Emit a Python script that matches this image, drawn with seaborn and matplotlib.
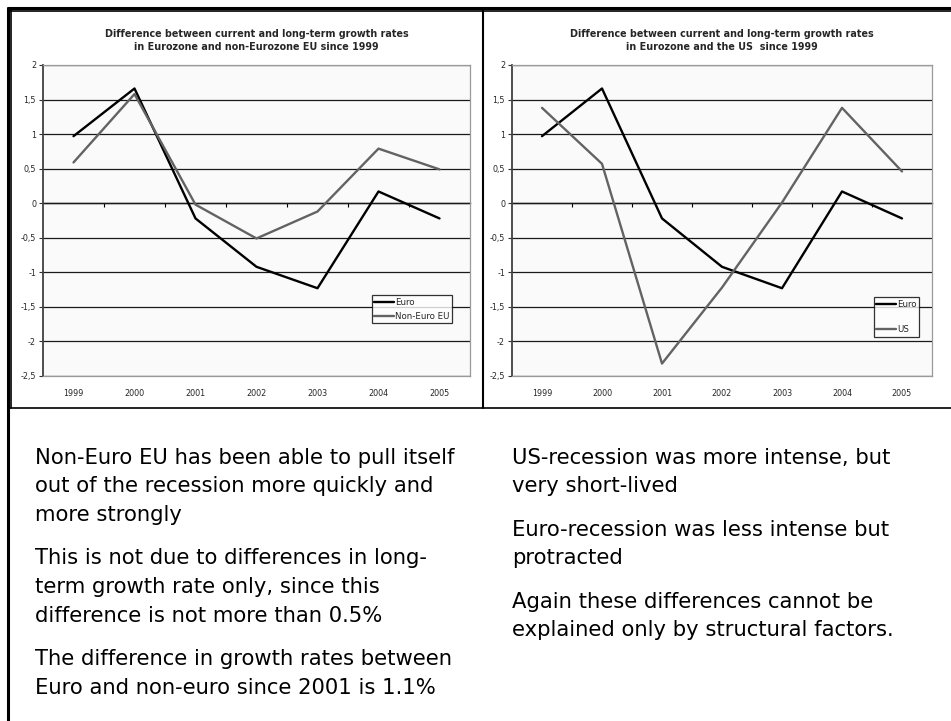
import numpy as np
import pandas as pd
import seaborn as sns
import matplotlib.pyplot as plt
from matplotlib.ticker import FuncFormatter

# values
years = [1999, 2000, 2001, 2002, 2003, 2004, 2005]
euro = [0.97, 1.66, -0.22, -0.92, -1.23, 0.17, -0.22]
non_euro_eu = [0.59, 1.58, -0.02, -0.51, -0.12, 0.79, 0.49]
us = [1.38, 0.57, -2.32, -1.22, 0.01, 1.38, 0.46]

y_min, y_max = -2.5, 2.0

left_title = ("Difference between current and long-term growth rates\n"
              "in Eurozone and non-Eurozone EU since 1999")
right_title = ("Difference between current and long-term growth rates\n"
               "in Eurozone and the US  since 1999")

left_notes = [
    ["Non-Euro EU has been able to pull itself",
     "out of the recession more quickly and",
     "more strongly"],
    ["This is not due to differences in long-",
     "term growth rate only, since this",
     "difference is not more than 0.5%"],
    ["The difference in growth rates between",
     "Euro and non-euro since 2001 is 1.1%"],
]
right_notes = [
    ["US-recession was more intense, but",
     "very short-lived"],
    ["Euro-recession was less intense but",
     "protracted"],
    ["Again these differences cannot be",
     "explained only by structural factors."],
]

sns.set_style("white")
plt.rcParams['font.family'] = ['DejaVu Sans']

W, H = 951, 721
fig = plt.figure(figsize=(W / 100, H / 100), dpi=100)

# pixel-space overlay for frames and notes
bg = fig.add_axes([0, 0, 1, 1])
bg.set_xlim(0, W)
bg.set_ylim(H, 0)
bg.axis('off')
bg.plot([7, W], [8, 8], color='black', lw=2.2, solid_capstyle='butt')
bg.plot([8, 8], [7, H], color='black', lw=2.2, solid_capstyle='butt')
bg.plot([10, W], [10.5, 10.5], color='black', lw=1.2)
bg.plot([10.5, 10.5], [10, 408], color='black', lw=1.2)
bg.plot([10, W], [408, 408], color='black', lw=1.2)
bg.plot([482.5, 482.5], [10, 408], color='black', lw=1.5)


def px_rect(x0, x1, top, bottom):
    return [x0 / W, 1 - bottom / H, (x1 - x0) / W, (bottom - top) / H]


def draw_panel(rect, other_name, other_vals, title, anchor, spacing):
    ax = fig.add_axes(rect)
    df = pd.DataFrame({
        'year': years * 2,
        'value': euro + other_vals,
        'series': ['Euro'] * len(years) + [other_name] * len(years),
    })
    sns.lineplot(data=df, x='year', y='value', hue='series',
                 palette={'Euro': 'black', other_name: '#636363'},
                 linewidth=1.7, sort=False, ax=ax)
    ax.set_facecolor('#fafafa')
    ax.set_xlim(years[0] - 0.5, years[-1] + 0.5)
    ax.set_ylim(y_min, y_max)
    ax.set_yticks(np.arange(y_min, y_max + 0.01, 0.5))
    ax.yaxis.set_major_formatter(FuncFormatter(lambda v, _: f"{v:g}".replace('.', ',')))
    ax.set_xticks(years)
    ax.set_xticklabels([str(y) for y in years])
    ax.set_xlabel('')
    ax.set_ylabel('')
    ax.yaxis.grid(True, color='#1a1a1a', lw=0.9)
    ax.set_axisbelow(True)
    ax.tick_params(axis='y', left=True, length=3, width=0.8, color='#333333',
                   labelsize=5.8, pad=2)
    ax.tick_params(axis='x', bottom=False, labelsize=5.8, pad=6)
    for s in ['top', 'right', 'bottom']:
        ax.spines[s].set_color('#9a9a9a')
        ax.spines[s].set_linewidth(0.9)
    ax.spines['left'].set_color('#404040')
    ax.spines['left'].set_linewidth(1.3)

    # category axis crossing at zero with ticks between categories
    zero = ax.secondary_xaxis((0 - y_min) / (y_max - y_min))
    zero.set_alignment('bottom')
    zero.set_xticks([y + 0.5 for y in years[:-1]])
    zero.set_xticklabels([])
    zero.tick_params(length=3, width=0.8, color='black')
    zero.spines['bottom'].set_color('black')
    zero.spines['bottom'].set_linewidth(1.0)

    ax.set_title(title, fontsize=6.9, fontweight='bold', pad=11, linespacing=1.4)

    leg = ax.legend(loc='upper right', bbox_to_anchor=anchor, fontsize=6.2,
                    frameon=True, fancybox=False, borderpad=0.3,
                    handlelength=2.3, handletextpad=0.1, labelspacing=spacing,
                    borderaxespad=0)
    leg.get_frame().set_edgecolor('black')
    leg.get_frame().set_linewidth(0.9)
    leg.get_frame().set_facecolor('white')
    return ax


draw_panel(px_rect(43, 470, 65, 376), 'Non-Euro EU', non_euro_eu, left_title,
           (0.958, 0.26), 0.6)
draw_panel(px_rect(512, 932, 65, 376), 'US', us, right_title,
           (0.969, 0.254), 1.9)


def write_notes(notes, x0, y0):
    y = y0
    for para in notes:
        for line in para:
            bg.text(x0, y, line, fontsize=15.2, va='baseline', ha='left', color='black')
            y += 28.5
        y += 15


write_notes(left_notes, 35, 464)
write_notes(right_notes, 512, 464)

fig.savefig('out.png', dpi=100)
